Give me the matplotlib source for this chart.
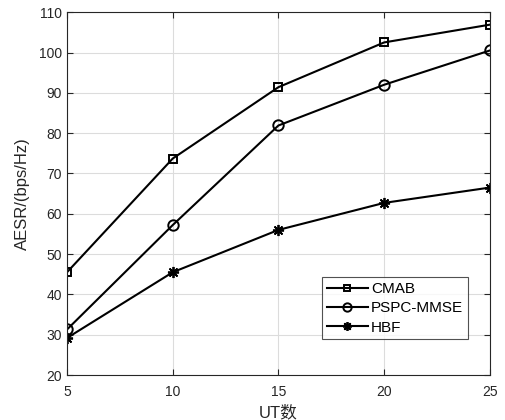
import matplotlib
matplotlib.use("Agg")
import matplotlib.pyplot as plt

plt.rcParams['font.family'] = ['Liberation Sans', 'Noto Sans CJK SC', 'DejaVu Sans']

ut = [5, 10, 15, 20, 25]
cmab = [45.5, 73.7, 91.4, 102.5, 106.9]
pspc = [31.3, 57.2, 81.9, 92.0, 100.5]
hbf = [29.2, 45.5, 56.0, 62.7, 66.5]

fig = plt.figure(figsize=(5.05, 4.2), dpi=100)
ax = fig.add_axes([0.1327, 0.107, 0.8373, 0.864])

ax.plot(ut, cmab, 'k-', marker='s', markersize=6, markerfacecolor='none', markeredgewidth=1.4, lw=1.5, label='CMAB')
ax.plot(ut, pspc, 'k-', marker='o', markersize=7.5, markerfacecolor='none', markeredgewidth=1.4, lw=1.5, label='PSPC-MMSE')
ax.plot(ut, hbf, 'k-', marker=(8, 2, 0), markersize=8, markeredgewidth=1.3, lw=1.5, label='HBF')

ax.set_xlim(5, 25)
ax.set_ylim(20, 110)
ax.set_xticks([5, 10, 15, 20, 25])
ax.set_yticks(range(20, 111, 10))
ax.grid(True, color='#dcdcdc', lw=0.8)
ax.tick_params(direction='in', top=True, right=True, labelsize=10, colors='#262626', length=4)
ax.tick_params(axis='x', pad=7)
for s in ax.spines.values():
    s.set_color('#262626')
    s.set_linewidth(0.8)

ax.set_xlabel('UT数', fontsize=12, color='#262626')
ax.xaxis.set_label_coords(0.5, -0.102)
ax.xaxis.label.set_va('center')
ax.set_ylabel('AESR/(bps/Hz)', fontsize=12, color='#262626')
ax.yaxis.set_label_coords(-0.106, 0.5)
ax.yaxis.label.set_va('center')

leg = ax.legend(loc='lower right', bbox_to_anchor=(0.948, 0.099), fontsize=11, frameon=True,
                fancybox=False, edgecolor='#262626', handlelength=2.7, handletextpad=0.2,
                borderpad=0.3, labelspacing=0.35, borderaxespad=0, markerscale=0.8)
leg.get_frame().set_linewidth(0.8)

fig.savefig('out.png', dpi=100)
